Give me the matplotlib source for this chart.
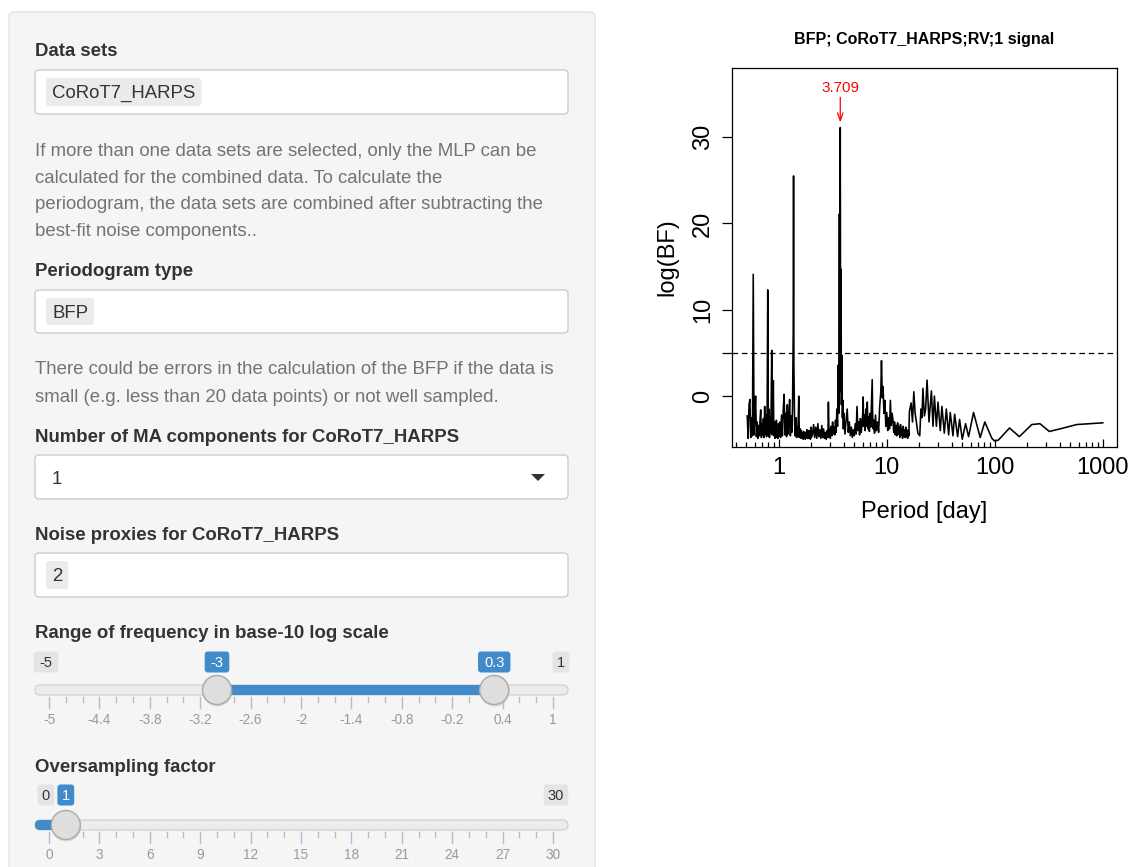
import matplotlib.pyplot as plt
from matplotlib.patches import FancyBboxPatch, Circle, Polygon
from matplotlib.ticker import LogLocator, NullFormatter

# --- periodogram: (period [day], log(BF)) ---
seg_below_1d = [
    (0.51, -2.3), (0.52, -4.9), (0.53, -1.0), (0.54, -0.4), (0.55, -4.8),
    (0.56, -2.5), (0.57, -4.6), (0.58, 14.1), (0.59, -4.5), (0.60, -2.0),
    (0.61, 0.0), (0.62, -4.7), (0.63, -3.0), (0.64, -4.9), (0.65, -3.4),
    (0.66, -4.6), (0.67, -2.8), (0.68, -1.6), (0.69, -4.8), (0.70, -3.2),
    (0.71, -4.5), (0.72, -2.6), (0.73, -4.8), (0.74, -1.2), (0.75, -4.4),
    (0.76, -2.2), (0.77, -4.7), (0.78, -1.8), (0.79, 12.3), (0.80, -4.6),
    (0.81, -1.5), (0.82, -4.8), (0.83, -2.4), (0.84, -4.3), (0.85, -0.9),
    (0.86, 5.3), (0.87, -4.5), (0.88, -2.6), (0.89, 1.8), (0.90, -4.6),
    (0.91, -3.0), (0.92, -4.9), (0.93, -3.6), (0.94, -4.7), (0.95, -2.8),
    (0.96, -4.8), (0.97, -3.5), (0.98, -4.9), (0.99, -3.2), (1.00, -4.7),
]
seg_1_to_2d = [
    (1.02, -3.0), (1.04, -4.8), (1.06, -2.2), (1.08, -4.6), (1.10, -1.5),
    (1.12, 0.2), (1.14, -4.5), (1.16, -2.0), (1.18, -4.7), (1.20, -1.0),
    (1.22, -4.4), (1.24, -2.6), (1.26, -0.4), (1.28, -4.6), (1.30, -2.3),
    (1.32, -4.2), (1.34, -1.5), (1.36, 7.3), (1.37, 25.5), (1.38, 3.5),
    (1.40, -3.0), (1.42, -4.6), (1.44, -2.5), (1.46, -4.8), (1.48, -3.6),
    (1.50, -4.7), (1.53, 0.0), (1.55, -4.8), (1.58, -3.8), (1.60, -4.9),
    (1.62, -4.0), (1.64, -4.8), (1.66, -4.3), (1.68, -5.0), (1.70, -4.1),
    (1.72, -4.9), (1.74, -4.4), (1.76, -5.0), (1.78, -4.2), (1.80, -4.8),
    (1.82, -3.9), (1.84, -4.9), (1.86, -4.4), (1.88, -4.9), (1.90, -4.0),
    (1.92, -4.8), (1.94, -4.5), (1.96, -5.0), (1.98, -3.6), (2.00, -4.8),
]
seg_2_to_4d = [
    (2.05, -4.5), (2.10, -3.3), (2.15, -4.8), (2.20, -3.6), (2.25, -4.9),
    (2.30, -3.2), (2.35, -4.7), (2.40, -3.9), (2.45, -4.9), (2.50, -3.4),
    (2.55, -4.8), (2.60, -3.8), (2.65, -4.9), (2.70, -4.2), (2.75, -5.0),
    (2.80, -4.0), (2.85, -4.8), (2.88, -0.7), (2.92, -4.6), (2.96, -3.8),
    (3.00, -4.9), (3.05, -3.5), (3.10, -4.6), (3.15, -3.0), (3.20, -4.4),
    (3.25, -3.6), (3.30, -4.5), (3.35, -2.8), (3.40, -4.2), (3.45, -1.5),
    (3.50, -3.5), (3.55, 3.6), (3.60, -2.0), (3.64, 21.1), (3.67, 0.5),
    (3.709, 31.1), (3.74, 2.0), (3.77, 14.7), (3.80, -1.0), (3.84, 4.7),
    (3.88, -2.5), (3.92, -0.5), (3.96, -3.8), (4.00, -2.0),
]
seg_4_to_8d = [
    (4.1, -4.4), (4.2, -2.8), (4.3, -1.5), (4.4, -4.2), (4.5, -3.0),
    (4.6, -4.6), (4.7, -3.6), (4.8, -4.8), (4.9, -3.9), (5.0, -4.6),
    (5.1, -3.2), (5.2, -4.4), (5.3, -1.2), (5.4, -4.0), (5.5, -3.0),
    (5.6, -4.5), (5.7, -2.6), (5.8, -4.2), (5.9, -3.3), (6.0, -1.8),
    (6.05, -0.1), (6.1, -3.5), (6.2, -2.2), (6.3, -4.0), (6.4, -1.5),
    (6.5, -3.5), (6.6, -0.7), (6.7, -3.8), (6.8, -2.4), (6.9, -4.1),
    (7.0, -2.0), (7.1, -3.6), (7.2, -1.0), (7.33, 1.9), (7.4, -2.5),
    (7.5, -3.8), (7.6, -2.8), (7.7, -4.3), (7.86, -2.2), (8.0, -4.0),
]
seg_8_to_16d = [
    (8.2, -3.0), (8.4, -4.2), (8.6, -1.2), (8.8, 0.5), (8.93, 4.1),
    (9.1, -0.2), (9.25, 1.1), (9.4, -2.0), (9.6, -0.5), (9.8, -3.5),
    (10.0, -1.9), (10.2, -4.0), (10.4, -2.5), (10.6, -3.8), (10.8, -0.5),
    (11.0, -3.4), (11.2, -2.0), (11.4, -2.7), (11.6, -4.2), (11.8, -3.0),
    (12.0, -4.5), (12.2, -3.4), (12.4, -4.6), (12.6, -3.1), (12.8, -4.4),
    (13.0, -3.6), (13.2, -4.8), (13.4, -3.3), (13.6, -4.5), (13.8, -3.8),
    (14.0, -4.9), (14.2, -3.5), (14.4, -4.6), (14.6, -3.9), (14.8, -4.8),
    (15.0, -3.6), (15.2, -4.7), (15.4, -4.0), (15.6, -4.9), (15.8, -3.9),
    (16.0, -4.6), (16.2, -1.8),
]
seg_long_periods = [
    (16.8, -0.8), (17.3, -3.0), (17.8, 0.5), (18.3, -2.0), (18.8, -3.0),
    (19.4, -4.3), (20.2, -4.6), (20.7, -1.5), (21.2, -2.5), (21.6, 0.9),
    (22.3, -2.3), (22.9, -1.5), (23.6, 1.85), (24.6, -3.0), (25.9, 0.6),
    (26.8, -3.5), (27.6, 0.0), (28.8, -3.5), (29.8, -0.7), (31.3, -4.0),
    (32.4, -1.2), (34.1, -4.3), (35.6, -1.5), (37.4, -4.5), (38.7, -1.9),
    (41.0, -4.6), (42.5, -2.1), (45.3, -4.7), (47.2, -2.7), (50.0, -5.0),
    (53.7, -3.2), (57.2, -4.7), (63.6, -1.9), (73.3, -4.8), (80.9, -3.0),
    (94.0, -4.9), (99.5, -5.2), (108, -5.1), (137, -3.7), (169, -4.7),
    (220, -3.3), (262, -3.2), (320, -4.1), (402, -3.8), (573, -3.3),
    (1000, -3.1),
]

threshold = 5
peak_period = 3.709
peak_value = 31.1
x_major = [1, 10, 100, 1000]
y_major = [0, 10, 20, 30]
plot_title = 'BFP; CoRoT7_HARPS;RV;1 signal'

# --- sidebar inputs ---
data_set = 'CoRoT7_HARPS'
periodogram_type = 'BFP'
ma_components = '1'
noise_proxies = '2'
freq_limits = (-5, 1)
freq_range = (-3, 0.3)
freq_ticks = [-5, -4.4, -3.8, -3.2, -2.6, -2, -1.4, -0.8, -0.2, 0.4, 1]
os_limits = (0, 30)
os_value = 1
os_ticks = [0, 3, 6, 9, 12, 15, 18, 21, 24, 27, 30]

help_datasets = [
    'If more than one data sets are selected, only the MLP can be',
    'calculated for the combined data. To calculate the',
    'periodogram, the data sets are combined after subtracting the',
    'best-fit noise components..',
]
help_bfp = [
    'There could be errors in the calculation of the BFP if the data is',
    'small (e.g. less than 20 data points) or not well sampled.',
]

FONT = 'Liberation Sans'
FS = 13.4
LABEL_C = '#333333'
HELP_C = '#737373'
BLUE = '#428bca'

W, H = 1130, 867
fig = plt.figure(figsize=(W / 100, H / 100), dpi=100)
fig.patch.set_facecolor('white')
renderer = fig.canvas.get_renderer()

# ---------- sidebar (pixel coordinates) ----------
ui = fig.add_axes([0, 0, 1, 1], zorder=0)
ui.set_xlim(0, W)
ui.set_ylim(H, 0)
ui.axis('off')


def rbox(x0, y0, x1, y1, fc, ec='none', r=4, lw=1.0, z=1):
    ui.add_patch(FancyBboxPatch((x0, y0), x1 - x0, y1 - y0,
                                boxstyle=f'round,pad=0,rounding_size={r}',
                                fc=fc, ec=ec, lw=lw, zorder=z))


def label(y, s):
    ui.text(35, y + 2, s, fontsize=FS, fontweight='bold', color=LABEL_C,
            family=FONT, va='center', ha='left')


def text_input(y0, y1, chip):
    rbox(35, y0, 568, y1, 'white', '#cccccc', r=4)
    t = ui.text(52, (y0 + y1) / 2 + 1.5, chip, fontsize=FS, color=LABEL_C,
                family=FONT, va='center', ha='left', zorder=3)
    tw = t.get_window_extent(renderer).width
    rbox(46, y0 + 8, 52 + tw + 6, y1 - 8, '#ebebeb', r=3, z=2)


def help_lines(y_first, lines, step=26.4):
    for i, s in enumerate(lines):
        ui.text(35, y_first + 2 + i * step, s, fontsize=FS, color=HELP_C,
                family=FONT, va='center', ha='left')


def badge(xc, y, s, blue):
    w = 9 + 7.8 * len(s)
    rbox(xc - w / 2, y - 10.5, xc + w / 2, y + 10.5, BLUE if blue else '#e4e4e4', r=3, z=2)
    ui.text(xc, y + 1, s, fontsize=10.5, color='white' if blue else LABEL_C,
            family=FONT, va='center', ha='center', zorder=3)


def slider(y_badge, y_track, lims, ticks, minor_step, lo, hi, single):
    x_a, x_b = 49, 553
    to_x = lambda v: x_a + (v - lims[0]) * (x_b - x_a) / (lims[1] - lims[0])
    # track
    rbox(35, y_track - 5, 568, y_track + 5, '#ececec', '#cdcdcd', r=5, lw=0.8)
    rbox(35 if single else to_x(lo), y_track - 5, to_x(hi), y_track + 5, BLUE,
         r=5 if single else 3, z=1.5)
    # ticks
    n = int(round((lims[1] - lims[0]) / minor_step))
    for k in range(n + 1):
        v = lims[0] + k * minor_step
        is_major = any(abs(v - t) < 1e-6 for t in ticks)
        ui.plot([to_x(v)] * 2, [y_track + 7, y_track + (18 if is_major else 12)],
                color='#a9bfd5' if is_major else '#bdbdbd', lw=1, zorder=1)
    for t in ticks:
        ui.text(to_x(t), y_track + 30, f'{t:g}', fontsize=9.8, color='#9a9a9a',
                family=FONT, va='center', ha='center')
    # min / max badges
    badge(x_a - 3, y_badge, f'{lims[0]:g}', False)
    badge(x_b + 8 if len(f'{lims[1]:g}') == 1 else x_b + 3, y_badge, f'{lims[1]:g}', False)
    # handles
    handle_vals = [hi] if single else [lo, hi]
    for v in handle_vals:
        badge(to_x(v), y_badge, f'{v:g}', True)
        ui.add_patch(Circle((to_x(v) + 0.5, y_track + 1.5), 15, fc='#bdbdbd', ec='none',
                            alpha=0.5, zorder=3))
        ui.add_patch(Circle((to_x(v), y_track), 14.5, fc='#dedede', ec='#a9a9a9',
                            lw=1, zorder=4))


# panel
rbox(9, 12, 595, 900, '#f5f5f5', '#e3e3e3', r=5, z=0)

label(50, 'Data sets')
text_input(70, 114, data_set)
help_lines(150, help_datasets)

label(270, 'Periodogram type')
text_input(290, 333, periodogram_type)
help_lines(368, help_bfp, step=27)

label(436, f'Number of MA components for {data_set}')
rbox(35, 455, 568, 499, 'white', '#cccccc', r=4)
ui.text(52, 479, ma_components, fontsize=FS, color=LABEL_C, family=FONT,
        va='center', ha='left')
ui.add_patch(Polygon([(531, 474), (545, 474), (538, 481)], closed=True,
                     fc='#333333', ec='none', zorder=3))

label(533, f'Noise proxies for {data_set}')
text_input(553, 597, noise_proxies)

label(632, 'Range of frequency in base-10 log scale')
slider(662, 690, freq_limits, freq_ticks, 0.2, freq_range[0], freq_range[1], False)

label(766, 'Oversampling factor')
slider(795, 825, os_limits, os_ticks, 1, os_limits[0], os_value, True)

# ---------- periodogram ----------
pairs = seg_below_1d + seg_1_to_2d + seg_2_to_4d + seg_4_to_8d + seg_8_to_16d + seg_long_periods
period_days = [p for p, _ in pairs]
log_bf = [v for _, v in pairs]

ax = fig.add_axes([732 / W, 1 - 447 / H, (1117 - 732) / W, (447 - 68) / H], zorder=2)
ax.plot(period_days, log_bf, color='black', lw=1.15)
ax.axhline(threshold, color='black', lw=0.9, dashes=(4.5, 3))
ax.set_xscale('log')
ax.set_xlim(0.3687, 1355)
ax.set_ylim(-5.9, 38.0)

ax.set_xticks(x_major, labels=[f'{v:g}' for v in x_major])
ax.xaxis.set_minor_locator(LogLocator(base=10, subs=range(2, 10)))
ax.xaxis.set_minor_formatter(NullFormatter())
ax.tick_params(axis='x', which='major', direction='in', length=6, width=0.9, pad=7,
               labelsize=17)
ax.tick_params(axis='x', which='minor', direction='in', length=3.5, width=0.9)

ax.set_yticks(y_major + [threshold], labels=[f'{v:g}' for v in y_major] + [''])
ax.tick_params(axis='y', direction='out', length=7, width=0.9, pad=6, labelsize=17)
for t in ax.get_yticklabels():
    t.set_rotation(90)
    t.set_va('center')

for s in ax.spines.values():
    s.set_linewidth(0.9)

for t in ax.get_xticklabels() + ax.get_yticklabels():
    t.set_family(FONT)

ax.set_xlabel('Period [day]', fontsize=17, family=FONT, labelpad=16)
ax.set_ylabel('log(BF)', fontsize=17, family=FONT, labelpad=10)
ax.set_title(plot_title, fontsize=11.5, fontweight='bold', family=FONT, pad=17)

ax.annotate('', xy=(peak_period, peak_value + 0.6), xytext=(peak_period, peak_value + 3.5),
            arrowprops=dict(arrowstyle='->,head_length=0.55,head_width=0.2',
                            color='red', lw=0.9, shrinkA=0, shrinkB=0))
ax.text(peak_period, peak_value + 4.6, f'{peak_period:.3f}', color='red', fontsize=11,
        family=FONT, ha='center', va='center')

fig.savefig('out.png', dpi=100)
